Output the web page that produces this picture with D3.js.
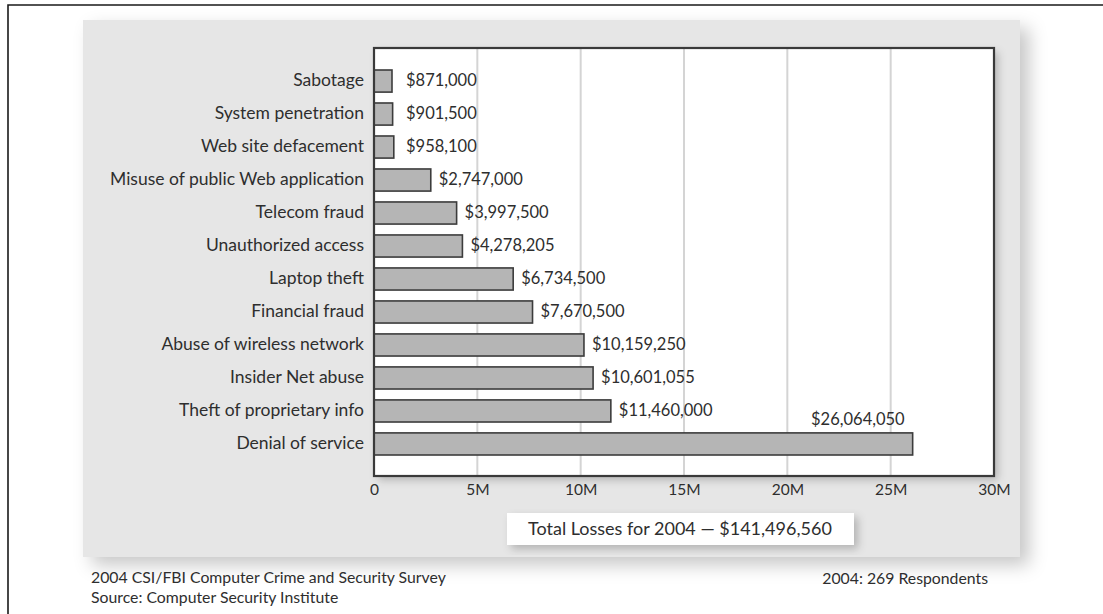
<!DOCTYPE html>
<html>
<head>
<meta charset="utf-8">
<script src="https://cdn.jsdelivr.net/npm/d3@7"></script>
<style>
  body { margin: 0; background: #fff; }
  text { font-family: Lato, "Open Sans", sans-serif; fill: #2e2e2e; }
</style>
</head>
<body>
<div id="chart"></div>
<script>
// Data
const categories = [
    "Sabotage", "System penetration", "Web site defacement",
    "Misuse of public Web application", "Telecom fraud", "Unauthorized access",
    "Laptop theft", "Financial fraud", "Abuse of wireless network",
    "Insider Net abuse", "Theft of proprietary info", "Denial of service"
];
const losses = [
    871000, 901500, 958100, 2747000, 3997500, 4278205,
    6734500, 7670500, 10159250, 10601055, 11460000, 26064050
];
const xTicks = [0, 5e6, 10e6, 15e6, 20e6, 25e6, 30e6];
const xTickLabels = ["0", "5M", "10M", "15M", "20M", "25M", "30M"];
const totalLabel = "Total Losses for 2004 \u2014 $141,496,560";
const footLeft = ["2004 CSI/FBI Computer Crime and Security Survey", "Source: Computer Security Institute"];
const footRight = "2004: 269 Respondents";

function draw_bar_chart(chartID) {
    const width = 1103, height = 614;
    const plot = {left: 374, top: 48, right: 994, bottom: 476};

    d3.select(chartID).html("");
    const svg = d3.select(chartID)
        .append("svg")
        .attr("width", width)
        .attr("height", height);

    // Shadow filters
    const defs = svg.append("defs");
    const shadow = defs.append("filter").attr("id", "shadow")
        .attr("x", "-5%").attr("y", "-5%").attr("width", "115%").attr("height", "120%");
    shadow.append("feDropShadow").attr("dx", 9).attr("dy", 8)
        .attr("stdDeviation", 9).attr("flood-color", "#000").attr("flood-opacity", 0.22);
    const smallShadow = defs.append("filter").attr("id", "smallShadow")
        .attr("x", "-10%").attr("y", "-10%").attr("width", "130%").attr("height", "140%");
    smallShadow.append("feDropShadow").attr("dx", 4).attr("dy", 4)
        .attr("stdDeviation", 4).attr("flood-color", "#000").attr("flood-opacity", 0.22);

    // Page frame
    svg.append("path")
        .attr("d", `M8,${height} V5 H${width}`)
        .attr("fill", "none")
        .attr("stroke", "#1a1a1a")
        .attr("stroke-width", 1.6);

    // Grey panel
    svg.append("rect")
        .attr("x", 83).attr("y", 20)
        .attr("width", 937).attr("height", 537)
        .attr("fill", "#e6e6e6")
        .attr("filter", "url(#shadow)");

    // Scales
    const x = d3.scaleLinear()
        .domain([0, 30e6])
        .range([plot.left, plot.right]);
    const y = d3.scaleBand()
        .domain(categories)
        .range([70, 455])
        .paddingInner(0.33);

    // Plot area
    svg.append("rect")
        .attr("x", plot.left).attr("y", plot.top)
        .attr("width", plot.right - plot.left).attr("height", plot.bottom - plot.top)
        .attr("fill", "#fff")
        .attr("filter", "url(#smallShadow)");

    // Gridlines
    svg.selectAll(".grid")
        .data(xTicks.slice(1, -1))
        .enter()
        .append("line")
        .attr("x1", d => x(d)).attr("x2", d => x(d))
        .attr("y1", plot.top).attr("y2", plot.bottom)
        .attr("stroke", "#d4d4d4")
        .attr("stroke-width", 2);

    // Bars
    svg.selectAll(".bar")
        .data(categories)
        .enter()
        .append("rect")
        .attr("x", x(0))
        .attr("y", d => y(d))
        .attr("width", (d, i) => x(losses[i]) - x(0))
        .attr("height", y.bandwidth())
        .attr("fill", "#b5b5b5")
        .attr("stroke", "#3c3c3c")
        .attr("stroke-width", 1.6);

    // Plot border on top
    svg.append("rect")
        .attr("x", plot.left).attr("y", plot.top)
        .attr("width", plot.right - plot.left).attr("height", plot.bottom - plot.top)
        .attr("fill", "none")
        .attr("stroke", "#3a3a3a")
        .attr("stroke-width", 2.2);

    // Value labels
    const fmt = d3.format("$,");
    const last = categories.length - 1;
    svg.selectAll(".value")
        .data(categories)
        .enter()
        .append("text")
        .attr("x", (d, i) => i === last ? x(losses[i]) - 8 : Math.max(x(losses[i]) + 8, x(0) + 32))
        .attr("y", (d, i) => i === last ? y(d) - 14 : y(d) + y.bandwidth() / 2 - 1)
        .attr("dy", "0.35em")
        .style("text-anchor", (d, i) => i === last ? "end" : "start")
        .style("font-size", "16.5px")
        .text((d, i) => fmt(losses[i]));

    // Category labels
    svg.selectAll(".cat")
        .data(categories)
        .enter()
        .append("text")
        .attr("x", plot.left - 10)
        .attr("y", d => y(d) + y.bandwidth() / 2 - 1)
        .attr("dy", "0.35em")
        .style("text-anchor", "end")
        .style("font-size", "17.5px")
        .text(d => d);

    // X axis labels
    const xAxis = d3.axisBottom(x)
        .tickValues(xTicks)
        .tickFormat((d, i) => xTickLabels[i])
        .tickSize(0)
        .tickPadding(8);
    const gx = svg.append("g")
        .attr("transform", `translate(0,${plot.bottom})`)
        .call(xAxis);
    gx.select(".domain").remove();
    gx.selectAll("text")
        .style("font-family", "Lato, sans-serif")
        .style("font-size", "15.5px")
        .attr("fill", "#2e2e2e");

    // Total losses box
    svg.append("rect")
        .attr("x", 507).attr("y", 513)
        .attr("width", 347).attr("height", 32)
        .attr("fill", "#fff")
        .attr("filter", "url(#smallShadow)");
    svg.append("text")
        .attr("x", 528).attr("y", 529)
        .attr("dy", "0.35em")
        .style("font-size", "18px")
        .text(totalLabel);

    // Footer
    svg.selectAll(".foot")
        .data(footLeft)
        .enter()
        .append("text")
        .attr("x", 91)
        .attr("y", (d, i) => 577 + i * 20)
        .attr("dy", "0.35em")
        .style("font-size", "15.8px")
        .text(d => d);
    svg.append("text")
        .attr("x", 988).attr("y", 578)
        .attr("dy", "0.35em")
        .style("text-anchor", "end")
        .style("font-size", "15.8px")
        .text(footRight);
}

draw_bar_chart("#chart");
</script>
</body>
</html>
